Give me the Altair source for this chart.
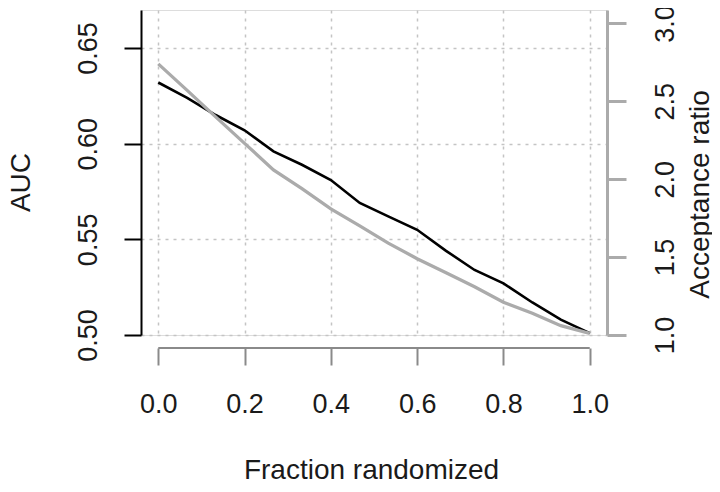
import altair as alt
import pandas as pd

# ---- data ----
frac = [0.0, 0.067, 0.133, 0.2, 0.267, 0.333, 0.4, 0.467, 0.533, 0.6,
        0.667, 0.733, 0.8, 0.867, 0.933, 1.0]
auc = [0.632, 0.624, 0.615, 0.607, 0.596, 0.589, 0.581, 0.569, 0.562, 0.555,
       0.544, 0.534, 0.527, 0.517, 0.508, 0.501]
acceptance = [2.74, 2.57, 2.40, 2.23, 2.06, 1.94, 1.81, 1.70, 1.59, 1.49,
              1.40, 1.31, 1.21, 1.14, 1.06, 1.01]

x_ticks = [0.0, 0.2, 0.4, 0.6, 0.8, 1.0]
auc_ticks = [0.50, 0.55, 0.60, 0.65]
acc_ticks = [1.0, 1.5, 2.0, 2.5, 3.0]

df = pd.DataFrame({"frac": frac, "auc": auc, "acc": acceptance})
xline = pd.DataFrame({"x0": [x_ticks[0]], "x1": [x_ticks[-1]]})

FONT = "Liberation Sans"
TXT = "#1a1a1a"
GRAY = "#ababab"

xscale = alt.Scale(domain=[-0.04, 1.04], nice=False, zero=False)

xaxis = alt.Axis(
    values=x_ticks, format=".1f", orient="bottom", offset=13,
    domain=False, tickColor="#8a8a8a", tickWidth=2, tickSize=17,
    labelFontSize=27, labelColor=TXT, labelFont=FONT, labelPadding=26,
    labelBaseline="top",
    title="Fraction randomized", titleFontSize=28, titleFont=FONT,
    titleFontWeight="normal", titleColor=TXT, titleBaseline="alphabetic",
    titleY=130, titleX=230,
    grid=True, gridDash=[3, 5], gridColor="#c4c4c4", gridWidth=1.5,
)

left = alt.Chart(df).mark_line(color="black", strokeWidth=2.6).encode(
    x=alt.X("frac:Q", scale=xscale, axis=xaxis),
    y=alt.Y("auc:Q",
            scale=alt.Scale(domain=[0.5, 0.6699], nice=False, zero=False),
            axis=alt.Axis(
                values=auc_ticks, format=".2f", orient="left",
                domainColor="black", domainWidth=2,
                tickColor="black", tickWidth=2, tickSize=17,
                labelAngle=270, labelAlign="center", labelBaseline="bottom",
                labelPadding=22, labelFontSize=27, labelColor=TXT, labelFont=FONT,
                title="AUC", titleAngle=270, titleAlign="center",
                titleBaseline="middle", titleX=-120, titleY=172,
                titleFontSize=28, titleFont=FONT, titleFontWeight="normal",
                titleColor=TXT,
                grid=True, gridDash=[3, 5], gridColor="#c4c4c4", gridWidth=1.5,
            )),
)

right = alt.Chart(df).mark_line(color=GRAY, strokeWidth=3.3).encode(
    x=alt.X("frac:Q", scale=xscale),
    y=alt.Y("acc:Q",
            scale=alt.Scale(domain=[1.0, 3.086], nice=False, zero=False),
            axis=alt.Axis(
                values=acc_ticks, format=".1f", orient="right",
                domainColor=GRAY, domainWidth=3,
                tickColor=GRAY, tickWidth=3, tickSize=19,
                labelAngle=270, labelAlign="center", labelBaseline="top",
                labelPadding=26, labelFontSize=27, labelColor=TXT, labelFont=FONT,
                title="Acceptance ratio", titleAngle=270, titleAlign="center",
                titleBaseline="middle", titleX=93, titleY=184,
                titleFontSize=28, titleFont=FONT, titleFontWeight="normal",
                titleColor=TXT, grid=False,
            )),
)

xdomain = alt.Chart(xline).mark_rule(color="#8a8a8a", strokeWidth=2).encode(
    x=alt.X("x0:Q", scale=xscale),
    x2="x1:Q",
    y=alt.value(338),
)

chart = alt.layer(xdomain, left, right).resolve_scale(y="independent").properties(
    width=466, height=325,
    autosize=alt.AutoSizeParams(type="none"),
    padding={"left": 133, "top": 2, "right": 105, "bottom": 147},
).configure_view(stroke=None).configure(background="white")

chart.save("out.html", embed_options={"renderer": "svg", "actions": False})
